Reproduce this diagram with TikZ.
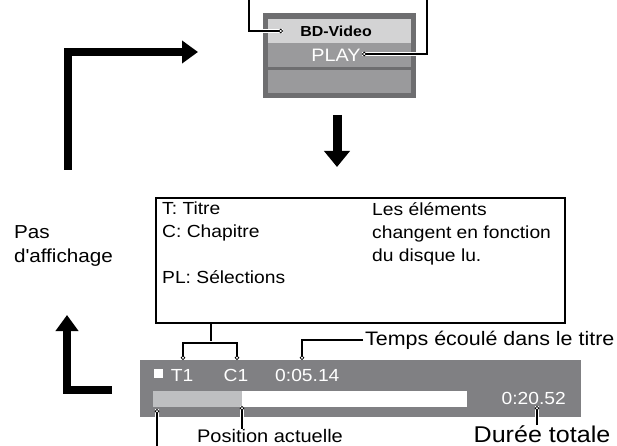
\documentclass[tikz,border=0pt]{standalone}
\usepackage{fontspec}
\setmainfont{Liberation Sans}[FakeStretch=1.1]
\usepackage{tikz}
\usetikzlibrary{arrows.meta}
\definecolor{framegray}{HTML}{6E6E70}
\definecolor{rowlight}{HTML}{D3D3D4}
\definecolor{rowmid}{HTML}{9A9A9C}
\definecolor{bargray}{HTML}{808083}
\definecolor{tracklight}{HTML}{BEBFC1}

\begin{document}
\begin{tikzpicture}[x=1pt,y=-1pt,font=\fontsize{17.5}{23}\selectfont,bigarrow/.style={line width=8pt,-{Triangle[length=16pt,width=22pt]}},callout/.style={line width=2pt,preaction={draw=white,line width=3.6pt,-},-{Circle[length=4.5pt,fill=white,line width=0.8pt]}},label/.style={inner sep=0pt,anchor=base},screen/.style={text=white,inner sep=0pt,anchor=base}]
\useasboundingbox (0,0) rectangle (617,446);
\fill[framegray] (263,13) rectangle (416,98);
\fill[rowlight] (268,19) rectangle (411,43);
\fill[rowmid] (268,43) rectangle (411,67);
\fill[rowmid] (268,70) rectangle (411,93);
\node[label,font=\bfseries\fontsize{14.5}{16}\selectfont] (disc) at (336,37) {BD-Video};
\node[screen,font=\fontsize{18}{20}\selectfont] (play) at (336,62) {PLAY};
\coordinate (discpin) at (283,31);
\coordinate (playpin) at (362,54);
\draw[callout] (249,0) |- (discpin);
\draw[callout] (427,0) |- (playpin);
\coordinate (upfoot) at (68,170);
\coordinate (uptip) at (198,52);
\coordinate (downtop) at (337,115);
\coordinate (downtip) at (337,167);
\coordinate (backfoot) at (112,390);
\coordinate (backtip) at (67,315);
\draw[bigarrow] (upfoot) |- (uptip);
\draw[bigarrow,line width=9pt,-{Triangle[length=16pt,width=25pt]}] (downtop) -- (downtip);
\draw[bigarrow] (backfoot) -| (backtip);
\node[align=left,anchor=west,inner sep=0pt,font=\fontsize{18.8}{24}\selectfont] (nodisp) at (14,246) {Pas\\d\textquotesingle affichage};
\node[draw,line width=2pt,minimum width=409pt,minimum height=125pt,inner sep=0pt] (info) at (360.5,260.5) {};
\node[align=left,anchor=north west,inner sep=0pt] (keys) at (162,202) {T: Titre\\C: Chapitre\\[23pt]PL: Sélections};
\node[align=left,anchor=north west,inner sep=0pt] (note) at (372,202) {Les éléments\\changent en fonction\\du disque lu.};
\node[fill=bargray,minimum width=441pt,minimum height=57pt,inner sep=0pt] (bar) at (360.5,388.5) {};
\fill[white] (153,391) rectangle (467,407);
\fill[tracklight] (153,391) rectangle (242,407);
\node[fill=white,minimum size=9pt,inner sep=0pt] (stopmark) at (158,373) {};
\node[screen] (title) at (182,381) {T1};
\node[screen] (chapter) at (236,381) {C1};
\node[screen,anchor=base west] (elapsed) at (275,381) {0:05.14};
\node[screen,anchor=base east] (total) at (566,404) {0:20.52};
\coordinate (fork) at (211,343);
\coordinate (titlepin) at (183,360);
\coordinate (chapterpin) at (237,360);
\draw[line width=2pt] (info.south -| fork) -- (fork);
\draw[callout] (fork) -| (titlepin);
\draw[callout] (fork) -| (chapterpin);
\node[anchor=west,inner sep=2pt,font=\fontsize{19.5}{22}\selectfont] (elapsedlbl) at (363,340) {Temps écoulé dans le titre};
\coordinate (elapsedpin) at (302,360);
\draw[callout] (elapsedlbl.west) -| (elapsedpin);
\node[label,font=\fontsize{18.2}{22}\selectfont] (poslbl) at (270,442) {Position actuelle};
\node[label,font=\fontsize{22.8}{24}\selectfont] (totallbl) at (542,442) {Durée totale};
\coordinate (pospin) at (242,406);
\coordinate (totalpin) at (537,406);
\coordinate (startpin) at (157,409);
\coordinate (startfoot) at (157,446);
\draw[callout] (poslbl.north -| pospin) -- (pospin);
\draw[callout] (totallbl.north -| totalpin) -- (totalpin);
\draw[callout] (startfoot) -- (startpin);
\end{tikzpicture}
\end{document}
